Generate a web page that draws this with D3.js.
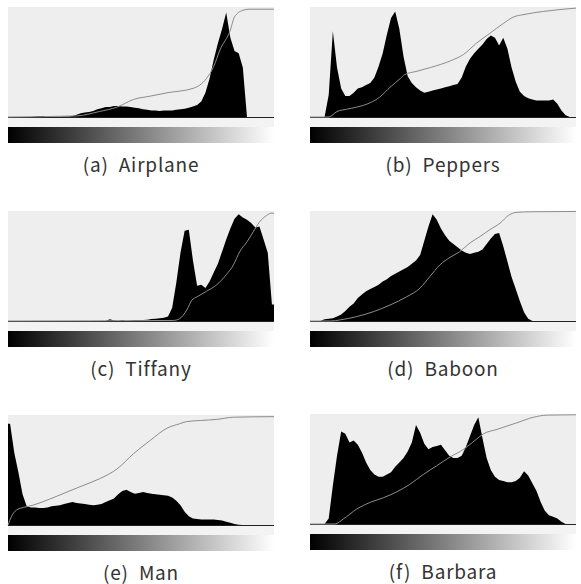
<!DOCTYPE html>
<html>
<head>
<meta charset="utf-8">
<script src="https://cdn.jsdelivr.net/npm/d3@7"></script>
<style>
  body { margin: 0; background: #ffffff; }
  svg { display: block; }
</style>
</head>
<body>
<svg id="fig" width="581" height="584"></svg>
<script>
// panel captions
const captions = ['(a)  Airplane', '(b)  Peppers', '(c)  Tiffany', '(d)  Baboon', '(e)  Man', '(f)  Barbara']

// histograms, 64 bins of 4 grey levels, height in % of plot
const histAirplane = [0,0,0,0,0,0,0.5,0.8,0.8,0.3,0,0.3,0.3,0.4,0.5,0.8,
  2,3.5,4,4.5,5.5,7,8,9,9,10,10,9.5,9.5,9,8.5,8,
  7,6.5,6,6,5.5,6,6,6,6.5,7,7.5,8.5,9.5,11,14,22,
  35,52,67,80,95,72,60,58,45,0,0,0,0,0,0,0]
const histPeppers = [0,0,0,0,20,78,45,26,19,19,22,26,27,29,31,36,
  46,58,75,90,96,80,55,37,31,27,24,22,23,24,25,26,
  27,28,29,30,36,46,53,58,62,66,71,74,72,65,72,62,
  45,32,23,19,17,16,15,15,15,15,16,12,6,1.5,0,0]
const histTiffany = [0,0,0,0,0,0,0,0,0,0,0,0,0,0,0,0,
  0,0,0,0,0,0,0,0,1.5,0.5,0,0.7,0,0.3,0.8,1,
  1,1.2,1.8,2,2.5,3,4,12,35,62,82,83,55,32,33,30,
  36,44,52,63,74,84,93,97,94,92,89,85,86,74,62,15]
const histBaboon = [0,0,0,1.5,2,2.5,4,6,9,13,16,21,24,27,29,31,
  33,36,38,41,43,45,47,49,52,55,60,73,86,97,92,84,
  78,73,70,67,64,62,61,62,63,65,70,75,79,80,68,54,
  40,29,18,8,2,0,0,0,0,0,0,0,0,0,0,0]
const histMan = [92,66,48,28,17,16,16,15.5,15.5,16,17,17.5,18,19,20,21,
  20,19.5,19,18.5,18,18.5,19,21,22.5,24,28,31,32,30,28.5,29,
  30,29,28.5,28,27.5,27,26.5,25,22,18,12,8,6,5.5,5,5,
  5,5,4.5,4,3,2,1,0.3,0,0,0,0,0,0,0,0]
const histBarbara = [0,0,0,0,5,35,62,84,82,74,76,72,65,56,49,45,
  43,43,45,47,52,56,60,66,74,90,83,73,68,70,71,72,
  67,62,60,60,62,70,80,90,97,78,60,49,43,40,39,38,
  38,39,42,48,44,37,30,20,12,8,6.5,5,2,0,0,0]

// cumulative curves: [grey level, % of plot height]
const cdfAirplane = [[0,0],[66,1],[88,5],[105,9],[121,16],[137,19],[153,22],[178,26],
  [191,35],[198,46],[204,61],[214,79],[218,91],[226,97],[232,98],[256,98]]
const cdfPeppers = [[0,0],[18,0],[26,5],[35,7],[45,9],[58,13],[67,18],[77,27],[87,35],
  [91,38.5],[103,41.6],[116,45],[135,51],[148,57],[160,67],[173,76],[186,85],
  [196,91],[205,93],[225,96],[256,99]]
const cdfTiffany = [[0,0],[159,0.5],[165,2],[172,10],[177,19],[182,22],[191,27],[201,33],
  [210,42],[217,51],[223,63],[230,72],[236,81],[242,90],[249,96],[253,98],[256,98]]
const cdfBaboon = [[0,0],[20,0],[29,1],[45,4],[61,8.5],[77,14.5],[93,22],[106,30],
  [115,40],[125,51],[135,58],[144,63],[154,71],[164,77],[173,83],[183,89],
  [191,96],[199,98.8],[212,99.3],[256,99.6]]
const cdfMan = [[0,0],[3.5,8],[8,13.5],[15,16],[24,18],[40,23.5],[56,29.7],[72,35.8],
  [88,42],[105,51],[121,65],[137,77],[153,88],[165,92],[172,94],[185,95],
  [201,96],[217,98],[256,98.5]]
const cdfBarbara = [[0,0],[24,0],[32,4.5],[45,13.6],[58,19.7],[71,24],[83,29],[96,36],
  [109,45],[122,53],[135,61],[148,68],[160,77],[167,82],[180,86],[199,92],
  [215,97],[228,99],[256,99.3]]

const panels = [
  {hist: histAirplane, cdf: cdfAirplane, left: 8,   top: 7},
  {hist: histPeppers,  cdf: cdfPeppers,  left: 310, top: 7},
  {hist: histTiffany,  cdf: cdfTiffany,  left: 8,   top: 211},
  {hist: histBaboon,   cdf: cdfBaboon,   left: 310, top: 211},
  {hist: histMan,      cdf: cdfMan,      left: 8,   top: 415},
  {hist: histBarbara,  cdf: cdfBarbara,  left: 310, top: 414}
]

const W = 266, H = 110

const svg = d3.select('#fig')

// shared grey gradient
const grad = svg.append('defs').append('linearGradient')
  .attr('id', 'grey')
  .attr('x1', '0%').attr('x2', '100%')
grad.append('stop').attr('offset', '0%').attr('stop-color', '#000000')
grad.append('stop').attr('offset', '100%').attr('stop-color', '#ffffff')

panels.forEach((p, k) => {
  const g = svg.append('g').attr('transform', 'translate(' + p.left + ',' + p.top + ')')

  const step = 256 / p.hist.length
  const xl = d3.scaleLinear().domain([0, 256]).range([0, W])
  const y = d3.scaleLinear().domain([0, 100]).range([H, 0])

  // plot background
  g.append('rect').attr('width', W).attr('height', H).attr('fill', '#eeeeee')
  g.append('rect').attr('y', H).attr('width', W).attr('height', 10).attr('fill', '#f3f3f3')

  // histogram as filled outline through bin centres
  const pts = p.hist.map((v, i) => [i * step + step / 2, v])
  pts.unshift([0, p.hist[0]])
  pts.push([256, p.hist[p.hist.length - 1]])
  const area = d3.area()
    .x(d => xl(d[0]))
    .y0(y(0))
    .y1(d => y(d[1]))
  g.append('path')
    .datum(pts)
    .attr('d', area)
    .attr('fill', '#000')

  // baseline
  g.append('line')
    .attr('x1', 0).attr('x2', W)
    .attr('y1', H + 0.5).attr('y2', H + 0.5)
    .attr('stroke', '#222').attr('stroke-width', 1)

  // cumulative curve
  const line = d3.line()
    .x(d => xl(d[0]))
    .y(d => y(d[1]))
    .curve(d3.curveMonotoneX)
  g.append('path')
    .datum(p.cdf)
    .attr('d', line)
    .attr('fill', 'none')
    .attr('stroke', '#8c8c8c')
    .attr('stroke-width', 1)

  // grey-level bar
  g.append('rect')
    .attr('y', H + 10).attr('width', W).attr('height', 16)
    .attr('fill', 'url(#grey)')

  // caption
  g.append('text')
    .attr('x', W / 2)
    .attr('y', H + 55)
    .attr('text-anchor', 'middle')
    .style('font-family', '"Noto Sans CJK KR", "Noto Sans", sans-serif')
    .style('font-size', '19px')
    .style('letter-spacing', '0.8px')
    .style('fill', '#333')
    .style('white-space', 'pre')
    .text(captions[k])
})
</script>
</body>
</html>
